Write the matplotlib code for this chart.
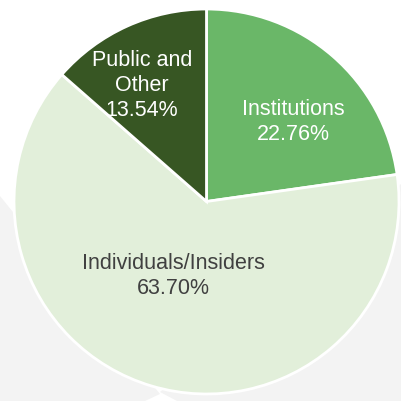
import matplotlib.pyplot as plt
from matplotlib.patches import Polygon

# shareholder breakdown
labels = ['Institutions', 'Individuals/Insiders', 'Public and\nOther']
shares = [22.76, 63.70, 13.54]
colors = ['#6ab768', '#e2efda', '#375623']
text_colors = ['white', '#404040', 'white']

W, H = 401, 402
cx, cy, r = 206.5, 202.5, 192.5   # pie centre / radius in pixels (from top-left)

fig = plt.figure(figsize=(W / 100, H / 100), dpi=100)
fig.patch.set_facecolor('white')

# faint grey shapes in the slide background
def px(pts):
    return [(x / W, 1 - y / H) for x, y in pts]

bg_left = [(0, 197), (160, 395), (145, 402), (0, 402)]
bg_right = [(177, 402), (160, 393), (401, 185), (401, 402)]
for pts in (bg_left, bg_right):
    fig.patches.append(Polygon(px(pts), closed=True, transform=fig.transFigure,
                               facecolor='#f3f3f3', edgecolor='none', zorder=-5))

ax = fig.add_axes([0, 0, 1, 1])
ax.set_zorder(2)
ax.set_facecolor('none')
wedges, _ = ax.pie(shares, colors=colors, startangle=90, counterclock=False,
                   radius=1.0, wedgeprops=dict(edgecolor='white', linewidth=2))

# label positions (relative to pie centre, in radius units)
label_pos = [(0.452, 0.418), (-0.174, -0.384), (-0.335, 0.610)]
for lab, val, (x, y), c in zip(labels, shares, label_pos, text_colors):
    ax.text(x, y, f'{lab}\n{val:.2f}%', ha='center', va='center', color=c,
            fontsize=15.5, family='Liberation Sans', linespacing=1.25)

ax.set_xlim(-cx / r, (W - cx) / r)
ax.set_ylim(-(H - cy) / r, cy / r)
ax.set_aspect('auto')
ax.axis('off')

fig.savefig('out.png', dpi=100, facecolor='white')
